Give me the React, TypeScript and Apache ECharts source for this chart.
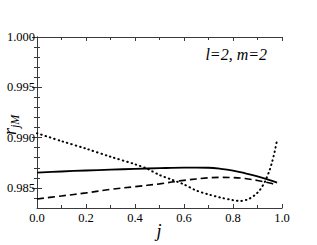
import React, { useEffect, useRef } from "react";
import * as echarts from "echarts";

const jSolid = [0, 0.1, 0.2, 0.3, 0.4, 0.5, 0.6, 0.7, 0.75, 0.8, 0.85, 0.9, 0.95, 0.98];
const rSolid = [0.98651, 0.98663, 0.98673, 0.98681, 0.98689, 0.98696, 0.98701, 0.987, 0.9869, 0.98672, 0.98645, 0.98614, 0.98578, 0.98553];

const jDashed = [0, 0.1, 0.2, 0.3, 0.4, 0.5, 0.6, 0.7, 0.75, 0.8, 0.85, 0.9, 0.95, 0.98];
const rDashed = [0.9839, 0.9842, 0.9845, 0.98485, 0.98512, 0.9854, 0.98575, 0.986, 0.98605, 0.98602, 0.98593, 0.98573, 0.98548, 0.98528];

const jDotted = [0, 0.1, 0.2, 0.3, 0.4, 0.45, 0.5, 0.55, 0.6, 0.65, 0.7, 0.75, 0.8, 0.83, 0.86, 0.89, 0.91, 0.93, 0.95, 0.96, 0.97, 0.98];
const rDotted = [0.99043, 0.98965, 0.9889, 0.9881, 0.98735, 0.9869, 0.98628, 0.98582, 0.98534, 0.98474, 0.98435, 0.98403, 0.98378, 0.9837, 0.98385, 0.9843, 0.9848, 0.9856, 0.9868, 0.9876, 0.9886, 0.98976];

const yLabelTicks = [0.985, 0.99, 0.995, 1.0];
const yMinorTicks = [0.984, 0.986, 0.987, 0.988, 0.989, 0.991, 0.992, 0.993, 0.994, 0.996, 0.997, 0.998, 0.999];
const xLabelTicks = [0, 0.2, 0.4, 0.6, 0.8, 1.0];
const xMinorTicks = [0.1, 0.3, 0.5, 0.7, 0.9];

const FONT = "Liberation Serif";
const IFONT = "'Liberation Serif'";
const AXIS_COLOR = "#3a3a3a";

export default function App() {
  const ref = useRef<HTMLDivElement>(null);
  useEffect(() => {
    if (!ref.current) return;
    const chart = echarts.init(ref.current, undefined, { renderer: "svg" });
    const zip = (a: number[], b: number[]) => a.map((v, i) => [v, b[i]]);
    const yBase = (position: "left" | "right", ticks: number[], len: number, labels: boolean, line: boolean) => ({
      type: "value",
      position,
      min: 0.983,
      max: 1.0,
      splitLine: { show: false },
      axisLine: { show: line, lineStyle: { color: AXIS_COLOR, width: 1 } },
      axisTick: { show: true, inside: true, length: len, customValues: ticks, lineStyle: { color: AXIS_COLOR, width: 1 } },
      axisLabel: labels
        ? { show: true, customValues: yLabelTicks, formatter: (v: number) => v.toFixed(3), fontFamily: FONT, fontSize: 12.5, color: "#000", margin: 2 }
        : { show: false },
    });
    const xBase = (position: "bottom" | "top", ticks: number[], len: number, labels: boolean, line: boolean) => ({
      type: "value",
      position,
      min: 0,
      max: 1,
      splitLine: { show: false },
      axisLine: { show: line, onZero: false, lineStyle: { color: AXIS_COLOR, width: 1 } },
      axisTick: { show: true, inside: true, length: len, customValues: ticks, lineStyle: { color: AXIS_COLOR, width: 1 } },
      axisLabel: labels
        ? { show: true, customValues: xLabelTicks, formatter: (v: number) => v.toFixed(1), fontFamily: FONT, fontSize: 12.5, color: "#000", margin: 3 }
        : { show: false },
    });
    chart.setOption({
      animation: false,
      backgroundColor: "#fff",
      grid: { left: 37, top: 37, right: 35, bottom: 37, containLabel: false },
      xAxis: [
        xBase("bottom", xLabelTicks, 4, true, true),
        xBase("bottom", xMinorTicks, 3, false, false),
        xBase("top", xLabelTicks, 4, false, true),
        xBase("top", xMinorTicks, 3, false, false),
      ],
      yAxis: [
        yBase("left", yLabelTicks, 5, true, true),
        yBase("left", yMinorTicks, 3, false, false),
        yBase("right", yLabelTicks, 5, false, true),
        yBase("right", yMinorTicks, 3, false, false),
      ],
      series: [
        {
          type: "line",
          data: zip(jDotted, rDotted),
          showSymbol: false,
          smooth: 0.3,
          lineStyle: { color: "#000", width: 2, type: [0.5, 4], cap: "round" },
        },
        {
          type: "line",
          data: zip(jDashed, rDashed),
          showSymbol: false,
          smooth: 0.35,
          lineStyle: { color: "#000", width: 1.6, type: [7, 4] },
        },
        {
          type: "line",
          data: zip(jSolid, rSolid),
          showSymbol: false,
          smooth: 0.35,
          lineStyle: { color: "#000", width: 1.8 },
        },
      ],
      graphic: [
        {
          type: "text",
          x: 267,
          y: 54,
          style: { text: "l=2, m=2", fontFamily: IFONT, fontStyle: "italic", fontSize: 16, fill: "#000", align: "right", verticalAlign: "middle" },
        },
        {
          type: "text",
          x: 159,
          y: 231,
          style: { text: "j", fontFamily: IFONT, fontStyle: "italic", fontSize: 18, fill: "#000", align: "center", verticalAlign: "middle" },
        },
        {
          type: "group",
          x: 10,
          y: 122,
          rotation: Math.PI / 2,
          children: [
            {
              type: "text",
              x: -13,
              y: 0,
              style: { text: "r", fontFamily: IFONT, fontStyle: "italic", fontSize: 18, fill: "#000", align: "left", verticalAlign: "middle" },
            },
            {
              type: "text",
              x: -6,
              y: 5,
              style: { text: "jM", fontFamily: IFONT, fontStyle: "italic", fontSize: 12, fill: "#000", align: "left", verticalAlign: "middle" },
            },
          ],
        },
      ],
    });
    return () => chart.dispose();
  }, []);
  return <div ref={ref} style={{ position: "fixed", left: 0, top: 0, width: 317, height: 245 }} />;
}
